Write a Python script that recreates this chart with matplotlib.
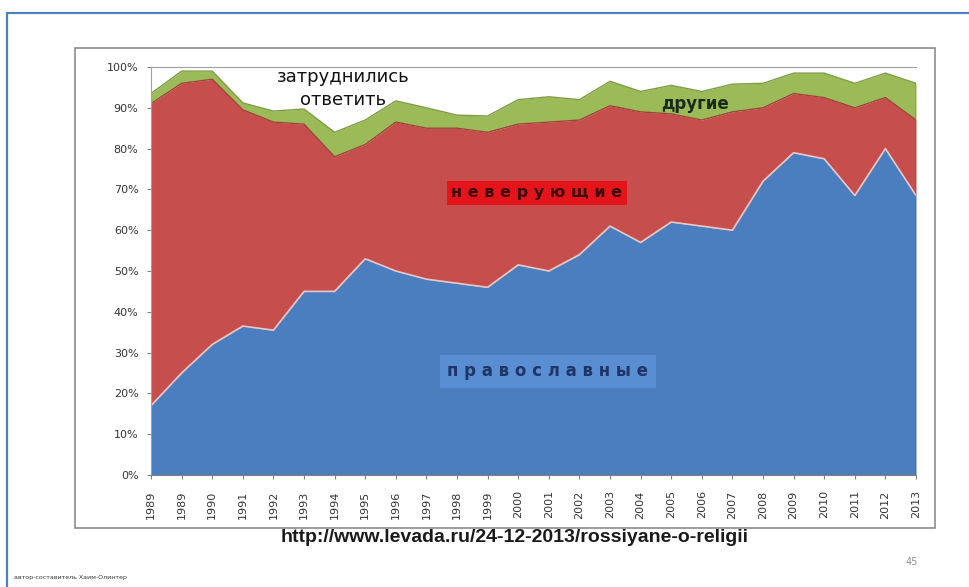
import matplotlib
matplotlib.use("Agg")
import matplotlib.pyplot as plt
from matplotlib.patches import Rectangle
import numpy as np

years = ["1989", "1989", "1990", "1991", "1992", "1993", "1994", "1995", "1996",
         "1997", "1998", "1999", "2000", "2001", "2002", "2003", "2004", "2005",
         "2006", "2007", "2008", "2009", "2010", "2011", "2012", "2013"]
orthodox = [17, 25, 32, 36.5, 35.5, 45, 45, 53, 50, 48, 47, 46, 51.5, 50, 54,
            61, 57, 62, 61, 60, 72, 79, 77.5, 68.5, 80, 68.5]
nonbelievers = [74, 71, 65, 53, 51, 41, 33, 28, 36.5, 37, 38, 38, 34.5, 36.5, 33,
                29.5, 32, 26.5, 26, 29, 18, 14.5, 15, 21.5, 12.5, 18.5]
others = [2.5, 3, 2, 1.7, 2.7, 3.7, 6, 6, 5.2, 5, 3.2, 4, 6, 6.2, 5,
          6, 5, 7, 7, 6.8, 6, 5, 6, 6, 6, 9]
yticks = [0, 10, 20, 30, 40, 50, 60, 70, 80, 90, 100]

BLUE = "#4A7EBF"
RED = "#C64E4C"
GREEN = "#9BBB59"

fig = plt.figure(figsize=(9.7, 5.87), dpi=100)
fig.patch.set_facecolor("white")

# outer slide frame
fig.add_artist(Rectangle((7 / 970, -0.1), 1.2, (587 - 13) / 587 + 0.1,
                         transform=fig.transFigure, fill=False,
                         edgecolor="#4F81BD", linewidth=1.6))
# inner chart box
fig.add_artist(Rectangle((75 / 970, (587 - 528) / 587), 860 / 970, 480 / 587,
                         transform=fig.transFigure, fill=False,
                         edgecolor="#8C8C8C", linewidth=1.2))

ax = fig.add_axes([151 / 970, (587 - 475) / 587, 765 / 970, 408 / 587])
x = np.arange(len(years))
o = np.array(orthodox)
r = o + np.array(nonbelievers)
g = r + np.array(others)

ax.fill_between(x, 0, o, color=BLUE, linewidth=0)
ax.fill_between(x, o, r, color=RED, linewidth=0)
ax.fill_between(x, r, g, color=GREEN, linewidth=0)
ax.plot(x, o, color="#E8C8C8", linewidth=1.2)
ax.plot(x, r, color="#A0443A", linewidth=1.0)
ax.plot(x, g, color="#7E9C45", linewidth=1.0)
ax.plot([x[-1], x[-1]], [0, g[-1]], color="#2F4F7F", linewidth=1.0)

ax.set_xlim(0, len(years) - 1)
ax.set_ylim(0, 100)
ax.set_yticks(yticks)
ax.set_yticklabels([f"{v}%" for v in yticks], fontsize=8, color="#333333")
ax.set_xticks(x)
ax.set_xticklabels(years, rotation=90, fontsize=8, color="#333333")
ax.tick_params(axis="both", length=3, color="#808080", pad=6)
ax.tick_params(axis="x", pad=8)
ax.spines["top"].set_color("#A0A0A0")
ax.spines["left"].set_color("#A0A0A0")
ax.spines["bottom"].set_color("#808080")
ax.spines["right"].set_visible(False)
ax.set_facecolor("white")

# labels
fig.text(343 / 970, 1 - 77 / 587, "затруднились", ha="center", va="center",
         fontsize=13, color="#111111")
fig.text(343 / 970, 1 - 100 / 587, "ответить", ha="center", va="center",
         fontsize=13, color="#111111")
fig.text(695 / 970, 1 - 104 / 587, "другие", ha="center", va="center",
         fontsize=12, fontweight="bold", color="#1A2A1A")
fig.text(537 / 970, 1 - 193 / 587, "н е в е р у ю щ и е", ha="center", va="center",
         fontsize=11.5, fontweight="bold", color="#3A0A0A",
         bbox=dict(boxstyle="square,pad=0.3", facecolor="#E5141A",
                   edgecolor="none"))
fig.text(548 / 970, 1 - 371 / 587, "п р а в о с л а в н ы е", ha="center", va="center",
         fontsize=12, fontweight="bold", color="#1F3566",
         bbox=dict(boxstyle="square,pad=0.45", facecolor="#5A8ED2",
                   edgecolor="none"))

fig.text(515 / 970, 1 - 537 / 587, "http://www.levada.ru/24-12-2013/rossiyane-o-religii",
         ha="center", va="center", fontsize=14, color="#1A1A1A",
         family=["Liberation Sans", "DejaVu Sans"], fontweight="bold")
fig.text(912 / 970, 1 - 562 / 587, "45", ha="center", va="center",
         fontsize=7, color="#909090")
fig.text(14 / 970, 1 - 578 / 587, "автор-составитель Хаим-Олинтер", ha="left",
         va="center", fontsize=4.5, color="#333333")

fig.savefig("out.png", dpi=100)
